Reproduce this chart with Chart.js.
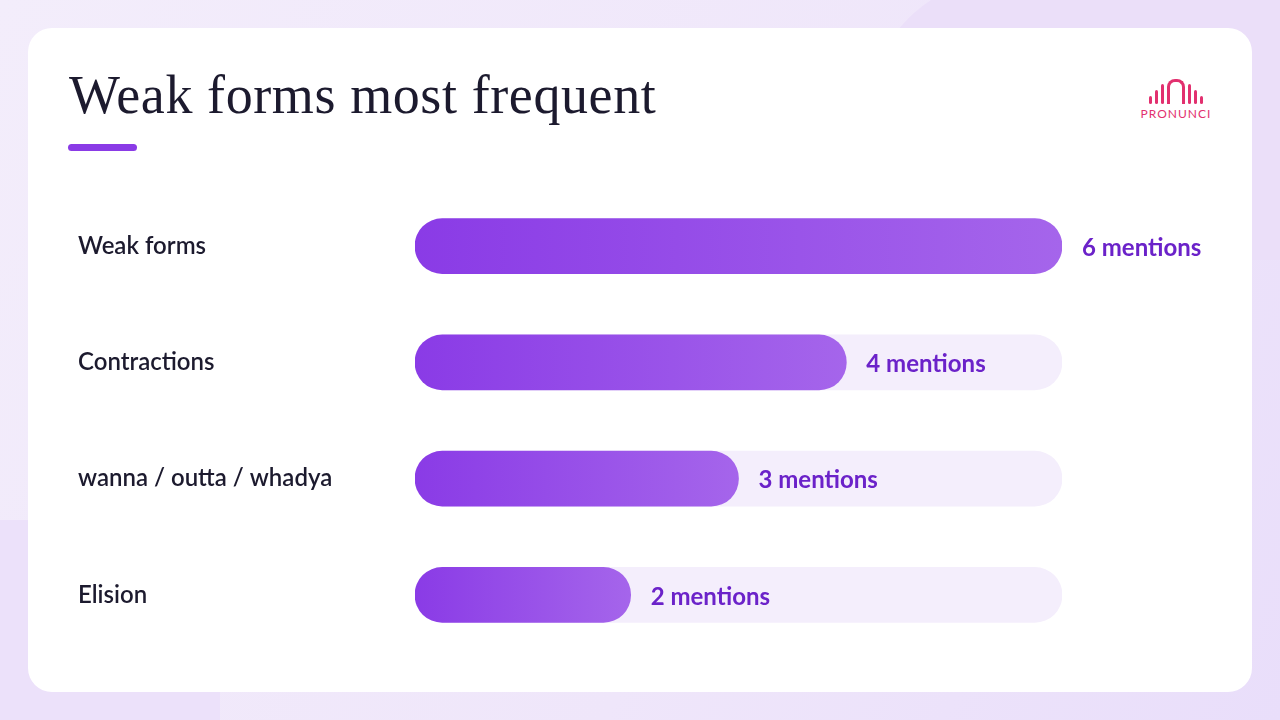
<!DOCTYPE html>
<html lang="en">
<head>
<meta charset="utf-8">
<title>Weak forms most frequent</title>
<script src="https://cdn.jsdelivr.net/npm/chart.js@4.4.0/dist/chart.umd.min.js"></script>
<style>
    html, body { margin: 0; padding: 0; }
    body {
        width: 1280px; height: 720px; overflow: hidden; position: relative;
        background: linear-gradient(120deg, #f3edfb 0%, #efe6fa 60%, #e9defa 100%);
        font-family: Lato, "Noto Sans", sans-serif;
    }
    .blob1 { position: absolute; left: 880px; top: -40px; width: 500px; height: 300px; background: #ebdff9; border-radius: 40% 0 0 60%; }
    .blob2 { position: absolute; left: -60px; top: 520px; width: 280px; height: 260px; background: #ece1fa; border-radius: 0 60% 0 0; }
    #card {
        position: absolute; left: 28px; top: 28px; width: 1224px; height: 664px;
        background: #fff; border-radius: 24px;
    }
    h1 {
        position: absolute; left: 69px; top: 64px; margin: 0;
        font-family: "Liberation Serif", serif; font-weight: normal;
        font-size: 54px; color: #1c1a2e; letter-spacing: 0.6px;
    }
    .rule { position: absolute; left: 68px; top: 144px; width: 69px; height: 7px; border-radius: 4px; background: #8a3be6; }
    .logo { position: absolute; left: 1139px; top: 72px; width: 74px; text-align: center; color: #e2306f; }
    .logo .bars { height: 32px; display: flex; align-items: flex-end; justify-content: center; gap: 3px; }
    .logo .bars span { width: 3px; background: #e2306f; border-radius: 2px; }
    .logo .name { font-size: 12px; letter-spacing: 1px; margin-top: 2px; }
    #chartBox { position: absolute; left: 0; top: 0; width: 1280px; height: 720px; }
</style>
</head>
<body>
<div class="blob1"></div>
<div class="blob2"></div>
<div id="card"></div>
<h1>Weak forms most frequent</h1>
<div class="rule"></div>
<div class="logo">
    <div class="bars">
        <span style="height:8px"></span><span style="height:14px"></span><span style="height:20px"></span>
        <span style="height:22px;width:12px;background:none;border:3px solid #e2306f;border-bottom:none;border-radius:8px 8px 0 0"></span>
        <span style="height:20px"></span><span style="height:14px"></span><span style="height:8px"></span>
    </div>
    <div class="name">PRONUNCI</div>
</div>
<div id="chartBox"><canvas id="chart"></canvas></div>

<script>
    var categories = ['Weak forms', 'Contractions', 'wanna / outta / whadya', 'Elision'];
    var mentions = [6, 4, 3, 2];
    var maxMentions = 6;
    var trackValues = [6, 6, 6, 6];

    // left labels and value labels
    var labelPlugin = {
        id: 'labels',
        afterDatasetsDraw: function (chart) {
            var ctx = chart.ctx;
            var x = chart.scales.x, y = chart.scales.y;
            ctx.save();
            ctx.textBaseline = 'middle';
            categories.forEach(function (cat, i) {
                var yc = y.getPixelForValue(i);
                ctx.font = '600 24px Lato, "Noto Sans", sans-serif';
                ctx.fillStyle = '#1c1a2e';
                ctx.textAlign = 'left';
                ctx.fillText(cat, 78, yc);
                ctx.font = 'bold 24px Lato, "Noto Sans", sans-serif';
                ctx.fillStyle = '#6b22c9';
                ctx.fillText(mentions[i] + ' mentions', x.getPixelForValue(mentions[i]) + 20, yc + 2);
            });
            ctx.restore();
        }
    };

    function barGradient(context) {
        var chart = context.chart;
        if (!chart.chartArea) return '#8a3be6';
        var x = chart.scales.x;
        var x0 = x.getPixelForValue(0);
        var x1 = x.getPixelForValue(mentions[context.dataIndex]);
        var g = chart.ctx.createLinearGradient(x0, 0, x1, 0);
        g.addColorStop(0, '#8a3be6');
        g.addColorStop(1, '#a565eb');
        return g;
    }

    new Chart(document.getElementById('chart'), {
        type: 'bar',
        data: {
            labels: categories,
            datasets: [{
                data: mentions,
                backgroundColor: barGradient,
                borderRadius: 28,
                borderSkipped: false,
                barThickness: 55,
                grouped: false,
                order: 1
            }, {
                data: trackValues,
                backgroundColor: '#f4eefc',
                borderRadius: 28,
                borderSkipped: false,
                barThickness: 55,
                grouped: false,
                order: 2
            }]
        },
        options: {
            indexAxis: 'y',
            responsive: true,
            maintainAspectRatio: false,
            animation: false,
            layout: { padding: { left: 415, right: 218, top: 188, bottom: 67 } },
            scales: {
                x: { display: false, min: 0, max: maxMentions },
                y: { display: false }
            },
            plugins: { legend: { display: false }, tooltip: { enabled: false } }
        },
        plugins: [labelPlugin]
    });
</script>
</body>
</html>
